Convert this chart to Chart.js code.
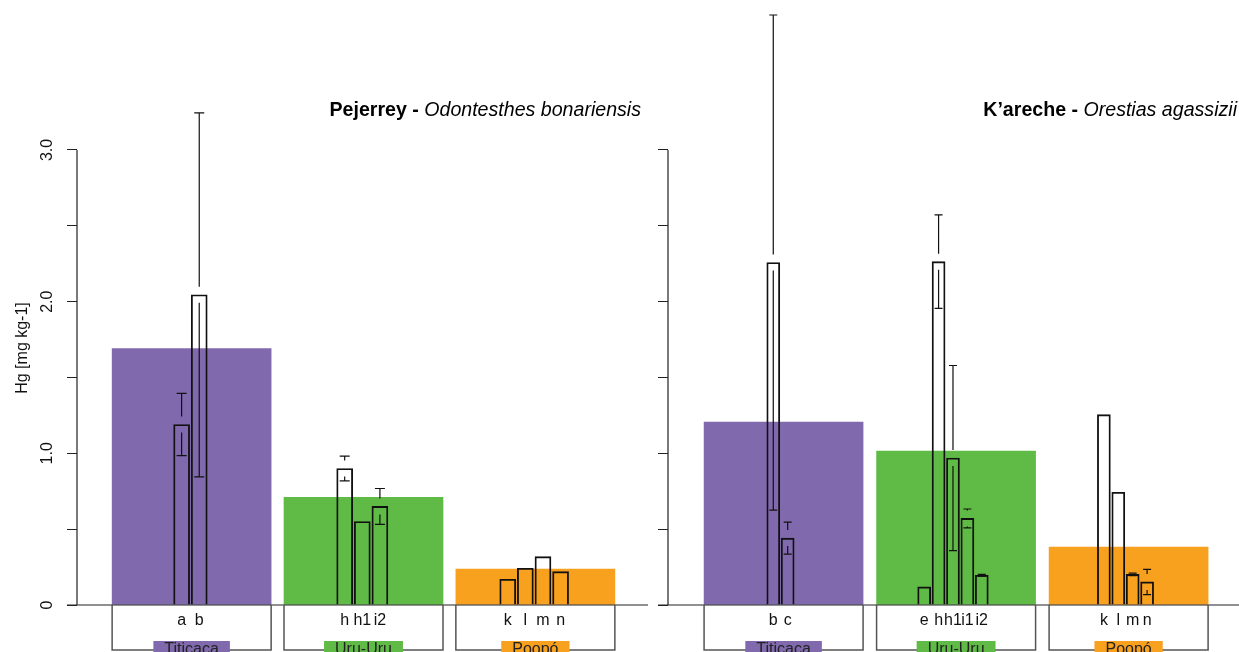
<!DOCTYPE html>
<html>
<head>
    <meta charset="utf-8">
    <title>Hg in fish by lake</title>
    <script src="https://cdn.jsdelivr.net/npm/chart.js"></script>
    <style>
        body { margin: 0; background: #fff; }
        #wrap { position: relative; width: 1239px; height: 652px; overflow: hidden; }
        canvas { position: absolute; top: 0; }
    </style>
</head>
<body>
<div id="wrap">
    <canvas id="pejerrey" width="650" height="652" style="left:0"></canvas>
    <canvas id="kareche" width="589" height="652" style="left:650px"></canvas>
</div>

<script>
// lakes (big bars) and sampling sites (narrow outlined bars)
const lakes = ['Titicaca', 'Uru-Uru', 'Poopó'];
const lakeColors = ['#806AAD', '#5FBA46', '#F8A11E'];

const pejLakeMeans = [1.69, 0.71, 0.237];
const pejSites = [['a', 'b'], ['h', 'h1', 'i2'], ['k', 'l', 'm', 'n']];
const pejSiteMeans = [[1.19, 2.045], [0.90, 0.55, 0.65], [0.17, 0.242, 0.319, 0.22]];
const pejSiteSD = [[0.205, 1.2], [0.081, null, 0.118], [null, null, null, null]];

const karLakeMeans = [1.206, 1.015, 0.382];
const karSites = [['b', 'c'], ['e', 'h', 'h1', 'i1', 'i2'], ['k', 'l', 'm', 'n']];
const karSiteMeans = [[2.258, 0.441], [0.119, 2.264, 0.969, 0.571, 0.196], [1.255, 0.743, 0.202, 0.152]];
const karSiteSD = [[1.632, 0.105], [null, 0.308, 0.61, 0.062, 0.006], [null, null, 0.008, 0.083]];

const yLabelValues = [0, 1, 2, 3];

Chart.defaults.font.family = '"Liberation Sans", Arial, sans-serif';
Chart.defaults.font.size = 16;
Chart.defaults.color = '#111';

function drawPanel(id, p) {
    // flatten sites, placing each one inside its lake's bar
    const siteData = [], siteLabels = [], siteSD = [];
    p.sites.forEach((group, g) => {
        group.forEach((s, j) => {
            siteData.push({ x: g + 1 + p.shift + (j - (group.length - 1) / 2) * p.pitch, y: p.siteMeans[g][j] });
            siteLabels.push(s);
            siteSD.push(p.siteSD[g][j]);
        });
    });

    const extras = {
        id: 'extras',
        afterDraw(chart) {
            const ctx = chart.ctx, area = chart.chartArea, y = chart.scales.y;
            const y0 = y.getPixelForValue(0);
            ctx.save();

            // axis line (0 to 3 only) and baseline
            ctx.strokeStyle = '#222';
            ctx.lineWidth = 1.2;
            ctx.beginPath();
            ctx.moveTo(area.left, y0);
            ctx.lineTo(area.left, y.getPixelForValue(3));
            ctx.moveTo(area.left - 10, y0);
            ctx.lineTo(p.baseEnd || area.right, y0);
            ctx.stroke();

            // error bars with a gap around the mean
            const gap = 8, cap = p.cap;
            ctx.strokeStyle = '#111';
            chart.getDatasetMeta(0).data.forEach((el, i) => {
                const sd = siteSD[i];
                if (sd == null) return;
                const m = siteData[i].y;
                const top = y.getPixelForValue(m + sd), bot = y.getPixelForValue(m - sd);
                ctx.beginPath();
                if (el.y - gap > top) { ctx.moveTo(el.x, el.y - gap); ctx.lineTo(el.x, top); }
                ctx.moveTo(el.x - cap / 2, top); ctx.lineTo(el.x + cap / 2, top);
                if (el.y + gap < bot) { ctx.moveTo(el.x, el.y + gap); ctx.lineTo(el.x, bot); }
                ctx.moveTo(el.x - cap / 2, bot); ctx.lineTo(el.x + cap / 2, bot);
                ctx.stroke();
            });

            // site letters
            ctx.fillStyle = '#111';
            ctx.font = '16px "Liberation Sans", Arial, sans-serif';
            ctx.textAlign = 'center';
            ctx.textBaseline = 'middle';
            chart.getDatasetMeta(0).data.forEach((el, i) => {
                ctx.fillText(siteLabels[i], el.x, y0 + 16);
            });

            // lake boxes and coloured name tags
            chart.getDatasetMeta(1).data.forEach((el, i) => {
                const l = el.x - el.width / 2, r = el.x + el.width / 2;
                ctx.strokeStyle = '#555';
                ctx.lineWidth = 1.5;
                ctx.beginPath();
                ctx.moveTo(l, y0); ctx.lineTo(l, y0 + 45); ctx.lineTo(r, y0 + 45); ctx.lineTo(r, y0);
                ctx.stroke();
                const w = ctx.measureText(lakes[i]).width + 22;
                ctx.fillStyle = lakeColors[i];
                ctx.fillRect(el.x - w / 2, y0 + 36, w, 20);
                ctx.fillStyle = '#222';
                ctx.fillText(lakes[i], el.x, y0 + 45);
            });

            // title: bold common name, italic species
            ctx.textAlign = 'left';
            ctx.fillStyle = '#000';
            const fb = 'bold 19.6px "Liberation Sans", Arial, sans-serif';
            const fi = 'italic 19.6px "Liberation Sans", Arial, sans-serif';
            ctx.font = fb;
            const wb = ctx.measureText(p.title[0]).width;
            ctx.font = fi;
            const wi = ctx.measureText(p.title[1]).width;
            const tx = p.titleRight - wb - wi;
            ctx.font = fb;
            ctx.fillText(p.title[0], tx, 111);
            ctx.font = fi;
            ctx.fillText(p.title[1], tx + wb, 111);
            ctx.restore();
        }
    };

    new Chart(document.getElementById(id), {
        type: 'bar',
        data: {
            datasets: [{
                data: siteData,
                backgroundColor: 'rgba(0,0,0,0)',
                borderColor: '#111',
                borderWidth: 1.2,
                barThickness: p.barWidth,
                grouped: false,
                order: 0
            }, {
                data: p.lakeMeans.map((v, i) => ({ x: i + 1, y: v })),
                backgroundColor: lakeColors,
                borderWidth: 0,
                barThickness: 159,
                grouped: false,
                order: 1
            }]
        },
        options: {
            responsive: false,
            animation: false,
            layout: { padding: { top: 91, bottom: 47, left: 0, right: 0 } },
            plugins: {
                legend: { display: false },
                tooltip: { enabled: false }
            },
            scales: {
                x: { type: 'linear', min: p.xMin, max: p.xMax, display: false, offset: false },
                y: {
                    min: 0,
                    max: 3.389,
                    afterFit: (s) => { s.width = p.axisWidth; },
                    afterBuildTicks: (s) => { s.ticks = s.ticks.filter(t => t.value <= 3); },
                    ticks: {
                        stepSize: 0.5,
                        includeBounds: false,
                        display: p.showLabels,
                        minRotation: 90,
                        maxRotation: 90,
                        crossAlign: 'center',
                        padding: 8,
                        callback: (v) => yLabelValues.includes(v) ? (v === 0 ? '0' : v.toFixed(1)) : ''
                    },
                    grid: { drawOnChartArea: false, tickLength: 10, color: '#222' },
                    border: { display: false },
                    title: {
                        display: p.showLabels,
                        text: 'Hg [mg kg-1]',
                        padding: { top: 13, bottom: 0 }
                    }
                }
            }
        },
        plugins: [extras]
    });
}

drawPanel('pejerrey', {
    lakeMeans: pejLakeMeans, sites: pejSites, siteMeans: pejSiteMeans, siteSD: pejSiteSD,
    title: ['Pejerrey - ', 'Odontesthes bonariensis'], titleRight: 641,
    xMin: 0.333, xMax: 3.667, pitch: 0.1025, shift: -0.007, barWidth: 16, cap: 10,
    axisWidth: 77, showLabels: true, baseEnd: 648
});

drawPanel('kareche', {
    lakeMeans: karLakeMeans, sites: karSites, siteMeans: karSiteMeans, siteSD: karSiteSD,
    title: ['K\u2019areche - ', 'Orestias agassizii'], titleRight: 587,
    xMin: 0.33, xMax: 3.64, pitch: 0.0835, shift: -0.018, barWidth: 13, cap: 8,
    axisWidth: 18, showLabels: false, baseEnd: 589
});
</script>
</body>
</html>
